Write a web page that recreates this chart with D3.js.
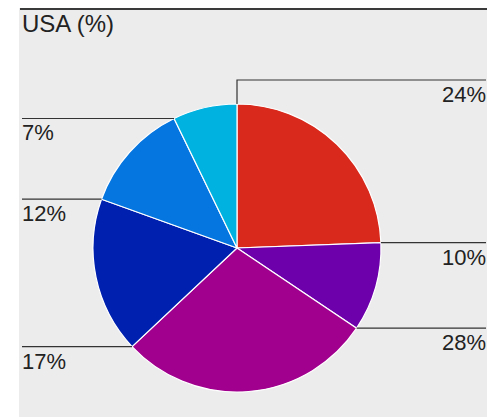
<!DOCTYPE html>
<html>
<head>
<meta charset="utf-8">
<script src="https://cdn.jsdelivr.net/npm/d3@7"></script>
<style>
  body { margin: 0; background: #fff; }
  text { font-family: "Liberation Sans", Arial, Helvetica, sans-serif; fill: #222; }
</style>
</head>
<body>
<div id="chart"></div>
<script>
var title = 'USA (%)';
var values = [24.4, 10.0, 28.6, 17.5, 12.3, 7.2];
var labels = ['24%', '10%', '28%', '17%', '12%', '7%'];
var colors = ['#d9291c', '#6e00ab', '#a1008f', '#0021b0', '#0575e0', '#00b2e0'];

var w = 491;
var h = 417;
var panel = { x: 19, y: 8, w: 468, h: 409 };
var cx = 237, cy = 248, r = 144;

var svg = d3.select('#chart').append('svg')
  .attr('width', w)
  .attr('height', h);

svg.append('rect')
  .attr('x', panel.x).attr('y', panel.y)
  .attr('width', panel.w).attr('height', panel.h)
  .attr('fill', '#ececec');

svg.append('line')
  .attr('x1', panel.x + 1).attr('x2', panel.x + panel.w)
  .attr('y1', panel.y + 1).attr('y2', panel.y + 1)
  .attr('stroke', '#3a3a3a').attr('stroke-width', 2);

svg.append('text')
  .attr('x', 22).attr('y', 32)
  .attr('font-size', 24)
  .text(title);

var pie = d3.pie().sort(null).value(function (d) { return d; });
var arcs = pie(values);
var arc = d3.arc().innerRadius(0).outerRadius(r);

var g = svg.append('g').attr('transform', 'translate(' + cx + ',' + cy + ')');

g.selectAll('path')
  .data(arcs)
  .enter()
  .append('path')
  .attr('d', arc)
  .attr('fill', function (d, i) { return colors[i]; })
  .attr('stroke', '#fff')
  .attr('stroke-width', 1.2);

// leader lines start at each slice's first edge and run to the panel side
var leftX = 22, rightX = 486;
arcs.forEach(function (d, i) {
  var a = d.startAngle;
  var px = cx + r * Math.sin(a);
  var py = cy - r * Math.cos(a);
  var right = a < Math.PI;
  var pts = [[px, py]];
  if (Math.cos(a) > 0.99) {
    py = py - 24;
    pts.push([px, py]);
  }
  pts.push([right ? rightX : leftX, py]);

  svg.append('path')
    .attr('d', d3.line()(pts))
    .attr('fill', 'none')
    .attr('stroke', '#333')
    .attr('stroke-width', 1.2);

  svg.append('text')
    .attr('x', right ? rightX : leftX)
    .attr('y', py + 22)
    .attr('text-anchor', right ? 'end' : 'start')
    .attr('font-size', 22)
    .text(labels[i]);
});
</script>
</body>
</html>
